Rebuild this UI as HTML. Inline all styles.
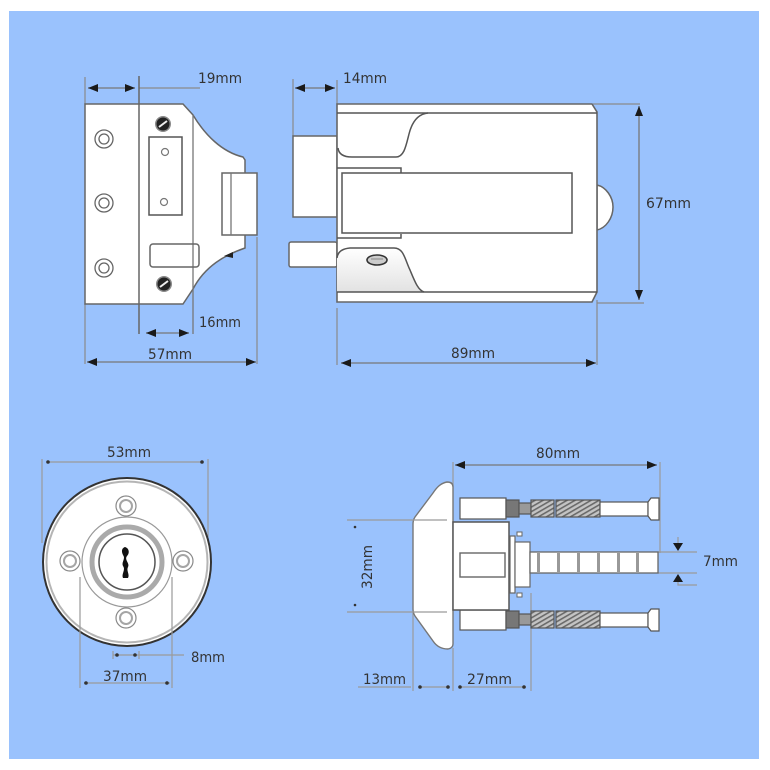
<!DOCTYPE html>
<html><head><meta charset="utf-8"><style>
html,body{margin:0;padding:0;background:#fff;}
svg{display:block;}
text{font-family:"DejaVu Sans","Liberation Sans",sans-serif;font-size:14px;fill:#333;}
</style></head><body>
<svg width="770" height="770" viewBox="0 0 770 770" xmlns="http://www.w3.org/2000/svg">
<defs>
<marker id="e" viewBox="0 0 10 8" refX="10" refY="4" markerWidth="10" markerHeight="8" markerUnits="userSpaceOnUse" orient="auto"><path d="M0,0 L10,4 L0,8 z" fill="#1a1a1a"/></marker>
<marker id="s" viewBox="0 0 10 8" refX="0" refY="4" markerWidth="10" markerHeight="8" markerUnits="userSpaceOnUse" orient="auto"><path d="M10,0 L0,4 L10,8 z" fill="#1a1a1a"/></marker>
<pattern id="thr" width="4" height="4" patternUnits="userSpaceOnUse" patternTransform="rotate(60)"><rect width="4" height="4" fill="#c4c4c4"/><rect width="1.6" height="4" fill="#6a6a6a"/></pattern>
<linearGradient id="sh" x1="0" y1="0" x2="0" y2="1"><stop offset="0" stop-color="#fff"/><stop offset="1" stop-color="#e2e2e2"/></linearGradient>
</defs>
<rect x="9" y="11" width="750" height="748" fill="#9ac2fd"/>

<!-- ===== TOP LEFT: front plate view ===== -->
<g fill="none" stroke="#8a8a8a" stroke-width="1.2">
<line x1="85" y1="77" x2="85" y2="104"/>
<line x1="85" y1="304" x2="85" y2="364"/>
<line x1="257" y1="237" x2="257" y2="364"/>
<line x1="139" y1="88" x2="200" y2="88"/>
</g>
<path d="M85,104 H183 L193,115 C205,135 222,152 243,157 L245,160 V248 C225,255 205,266 193,289 L183,304 H85 Z" fill="#fff" stroke="#666" stroke-width="1.5"/>
<line x1="139" y1="76" x2="139" y2="334" stroke="#666" stroke-width="1.5"/>
<line x1="193" y1="115" x2="193" y2="334" stroke="#777" stroke-width="1.3"/>
<rect x="222" y="173" width="35" height="62" fill="#fff" stroke="#666" stroke-width="1.5"/>
<line x1="231" y1="173" x2="231" y2="235" stroke="#777" stroke-width="1.3"/>
<path d="M224,256 L233,252 L233,258 Z" fill="#222"/>
<g fill="none" stroke="#666" stroke-width="1.3">
<circle cx="104" cy="139" r="9"/><circle cx="104" cy="139" r="5"/>
<circle cx="104" cy="203" r="9"/><circle cx="104" cy="203" r="5"/>
<circle cx="104" cy="268" r="9"/><circle cx="104" cy="268" r="5"/>
</g>
<rect x="149" y="137" width="33" height="78" fill="#fff" stroke="#555" stroke-width="1.5"/>
<circle cx="165" cy="152" r="3.5" fill="none" stroke="#777" stroke-width="1.2"/>
<circle cx="164" cy="202" r="3.5" fill="none" stroke="#777" stroke-width="1.2"/>
<rect x="150" y="244" width="49" height="23" rx="3" fill="none" stroke="#666" stroke-width="1.5"/>
<g>
<circle cx="163" cy="124" r="8" fill="#888"/><circle cx="163" cy="124" r="6.5" fill="#222"/>
<line x1="159" y1="127" x2="167" y2="121" stroke="#eee" stroke-width="2"/>
<circle cx="164" cy="284" r="8" fill="#888"/><circle cx="164" cy="284" r="6.5" fill="#222"/>
<line x1="160" y1="287" x2="168" y2="281" stroke="#eee" stroke-width="2"/>
</g>
<g stroke="#777" stroke-width="1.3">
<line x1="88" y1="88" x2="135" y2="88" marker-start="url(#s)" marker-end="url(#e)"/>
<line x1="146" y1="333" x2="189" y2="333" marker-start="url(#s)" marker-end="url(#e)"/>
<line x1="87" y1="362" x2="256" y2="362" marker-start="url(#s)" marker-end="url(#e)"/>
</g>
<text x="198" y="83" textLength="44" lengthAdjust="spacingAndGlyphs">19mm</text>
<text x="199" y="327" textLength="42" lengthAdjust="spacingAndGlyphs">16mm</text>
<text x="148" y="359" textLength="44" lengthAdjust="spacingAndGlyphs">57mm</text>

<!-- ===== TOP RIGHT: side view ===== -->
<g fill="none" stroke="#8a8a8a" stroke-width="1.2">
<line x1="293" y1="79" x2="293" y2="136"/>
<line x1="337" y1="80" x2="337" y2="104"/>
<line x1="593" y1="104" x2="640" y2="104"/>
<line x1="597" y1="303" x2="644" y2="303"/>
<line x1="337" y1="308" x2="337" y2="365"/>
<line x1="597" y1="300" x2="597" y2="365"/>
</g>
<rect x="293" y="136" width="44" height="81" fill="#fff" stroke="#666" stroke-width="1.5"/>
<rect x="289" y="242" width="48" height="25" rx="2" fill="#fff" stroke="#666" stroke-width="1.5"/>
<path d="M597,185 C606,187 613,197 613,207 C613,218 606,228 597,230 Z" fill="#fff" stroke="#666" stroke-width="1.5"/>
<path d="M337,104 H592 L597,112 V292 L592,302 H337 Z" fill="#fff" stroke="#666" stroke-width="1.6"/>
<path d="M337,258 Q338,249 350,248 H394 C404,248 405,260 410,270 C415,282 418,290 424,292 H337 Z" fill="url(#sh)" stroke="none"/>
<g fill="none" stroke="#555" stroke-width="1.5">
<line x1="337" y1="113" x2="597" y2="113"/>
<line x1="337" y1="292" x2="597" y2="292"/>
<path d="M338,148 Q339,157 352,157 H396 C404,157 406,146 409,134 C412,122 418,114 428,113"/>
<path d="M337,258 Q338,249 350,248 H394 C404,248 405,260 410,270 C415,282 418,290 424,292"/>
<path d="M337,168 H401 V173"/>
<path d="M337,238 H401 V234"/>
<rect x="342" y="173" width="230" height="60"/>
</g>
<ellipse cx="377" cy="260" rx="10" ry="5" fill="#ccc" stroke="#333" stroke-width="1.6"/>
<line x1="371" y1="259" x2="383" y2="259" stroke="#888" stroke-width="1"/>
<g stroke="#777" stroke-width="1.3">
<line x1="295" y1="88" x2="335" y2="88" marker-start="url(#s)" marker-end="url(#e)"/>
<line x1="639" y1="106" x2="639" y2="300" marker-start="url(#s)" marker-end="url(#e)"/>
<line x1="341" y1="363" x2="596" y2="363" marker-start="url(#s)" marker-end="url(#e)"/>
</g>
<text x="343" y="83" textLength="44" lengthAdjust="spacingAndGlyphs">14mm</text>
<text x="646" y="208" textLength="45" lengthAdjust="spacingAndGlyphs">67mm</text>
<text x="451" y="358" textLength="44" lengthAdjust="spacingAndGlyphs">89mm</text>

<!-- ===== BOTTOM LEFT: escutcheon front ===== -->
<g fill="none" stroke="#9a9a9a" stroke-width="1.2">
<line x1="42" y1="459" x2="42" y2="543"/>
<line x1="208" y1="459" x2="208" y2="537"/>
<line x1="47" y1="462" x2="203" y2="462"/>
</g>
<circle cx="48" cy="462" r="1.8" fill="#333"/><circle cx="202" cy="462" r="1.8" fill="#333"/>
<circle cx="127" cy="562" r="84" fill="#fff" stroke="#333" stroke-width="2"/>
<circle cx="127" cy="562" r="80.5" fill="none" stroke="#b5b5b5" stroke-width="2"/>
<circle cx="127" cy="562" r="45" fill="none" stroke="#999" stroke-width="1.2"/>
<circle cx="127" cy="562" r="35" fill="none" stroke="#aaa" stroke-width="5"/>
<circle cx="127" cy="562" r="28" fill="#fff" stroke="#555" stroke-width="1.5"/>
<path d="M125,547 C129,548 130,553 127,556 C124,560 130,563 128,567 C126,571 130,574 128,578 L123,578 C121,574 126,570 123,566 C121,562 126,559 123,555 C121,551 122,548 125,547 Z" fill="#111"/>
<g fill="#fff" stroke="#8a8a8a" stroke-width="1.2">
<circle cx="126" cy="506" r="10"/><circle cx="126" cy="618" r="10"/>
<circle cx="70" cy="561" r="10"/><circle cx="183" cy="561" r="10"/>
</g>
<g fill="none" stroke="#a5a5a5" stroke-width="2">
<circle cx="126" cy="506" r="6"/><circle cx="126" cy="618" r="6"/>
<circle cx="70" cy="561" r="6"/><circle cx="183" cy="561" r="6"/>
</g>
<g fill="none" stroke="#9a9a9a" stroke-width="1.2">
<line x1="80" y1="577" x2="80" y2="688"/>
<line x1="172" y1="577" x2="172" y2="688"/>
<line x1="84" y1="683" x2="170" y2="683"/>
<line x1="113" y1="655" x2="184" y2="655"/>
<line x1="113" y1="651" x2="113" y2="659"/>
<line x1="139" y1="651" x2="139" y2="659"/>
</g>
<circle cx="86" cy="683" r="1.8" fill="#333"/><circle cx="167" cy="683" r="1.8" fill="#333"/>
<circle cx="117" cy="655" r="1.8" fill="#333"/><circle cx="135" cy="655" r="1.8" fill="#333"/>
<text x="107" y="457" textLength="44" lengthAdjust="spacingAndGlyphs">53mm</text>
<text x="191" y="662" textLength="34" lengthAdjust="spacingAndGlyphs">8mm</text>
<text x="103" y="681" textLength="44" lengthAdjust="spacingAndGlyphs">37mm</text>

<!-- ===== BOTTOM RIGHT: escutcheon side ===== -->
<g fill="none" stroke="#9a9a9a" stroke-width="1.2">
<line x1="453" y1="462" x2="453" y2="487"/>
<line x1="660" y1="462" x2="660" y2="553"/>
<line x1="413" y1="612" x2="413" y2="691"/>
<line x1="453" y1="648" x2="453" y2="691"/>
<line x1="531" y1="593" x2="531" y2="691"/>
<line x1="358" y1="687" x2="411" y2="687"/>
<line x1="419" y1="687" x2="449" y2="687"/>
<line x1="459" y1="687" x2="526" y2="687"/>
<line x1="658" y1="552" x2="697" y2="552"/>
<line x1="658" y1="573" x2="697" y2="573"/>
<path d="M678,575 V585 H697"/>
<line x1="678" y1="537" x2="678" y2="545"/>
</g>
<circle cx="420" cy="687" r="1.8" fill="#333"/><circle cx="448" cy="687" r="1.8" fill="#333"/>
<circle cx="460" cy="687" r="1.8" fill="#333"/><circle cx="524" cy="687" r="1.8" fill="#333"/>
<circle cx="355" cy="527" r="1.3" fill="#333"/><circle cx="355" cy="605" r="1.3" fill="#333"/>
<path d="M673,543 L683,543 L678,551 Z" fill="#1a1a1a"/>
<path d="M673,582 L683,582 L678,574 Z" fill="#1a1a1a"/>
<!-- knob -->
<path d="M447,482 C441,483 437,487 433,493 L415,517 Q413,520 413,524 V609 Q413,613 415,616 L433,641 C437,647 442,649 448,649 Q453,648 453,644 V487 Q453,482 447,482 Z" fill="#fff" stroke="#777" stroke-width="1.4"/>
<line x1="347" y1="520" x2="447" y2="520" stroke="#9a9a9a" stroke-width="1.2"/>
<line x1="347" y1="612" x2="447" y2="612" stroke="#9a9a9a" stroke-width="1.2"/>
<!-- upper screw -->
<g stroke="#555" stroke-width="1.2">
<rect x="460" y="498" width="46" height="21" fill="#fff"/>
<rect x="506" y="500" width="13" height="17" fill="#777"/>
<rect x="519" y="503" width="12" height="11" fill="#999"/>
<rect x="531" y="500" width="23" height="17" fill="url(#thr)"/>
<rect x="556" y="500" width="44" height="17" fill="url(#thr)"/>
<rect x="600" y="502" width="48" height="14" fill="#fff"/>
<path d="M648,502 L651,498 H659 V520 H651 L648,516 Z" fill="#fff"/>
</g>
<!-- lower screw -->
<g stroke="#555" stroke-width="1.2">
<rect x="460" y="610" width="46" height="20" fill="#fff"/>
<rect x="506" y="611" width="13" height="17" fill="#777"/>
<rect x="519" y="614" width="12" height="11" fill="#999"/>
<rect x="531" y="611" width="23" height="17" fill="url(#thr)"/>
<rect x="556" y="611" width="44" height="17" fill="url(#thr)"/>
<rect x="600" y="613" width="48" height="14" fill="#fff"/>
<path d="M648,613 L651,609 H659 V631 H651 L648,627 Z" fill="#fff"/>
</g>
<!-- body -->
<rect x="453" y="522" width="56" height="88" fill="#fff" stroke="#555" stroke-width="1.5"/>
<rect x="460" y="553" width="45" height="24" fill="#fff" stroke="#666" stroke-width="1.4"/>
<rect x="517" y="532" width="5" height="4" fill="#fff" stroke="#666" stroke-width="1"/>
<rect x="517" y="593" width="5" height="4" fill="#fff" stroke="#666" stroke-width="1"/>
<rect x="510" y="536" width="5" height="57" fill="#fff" stroke="#666" stroke-width="1.2"/>
<rect x="515" y="542" width="15" height="45" fill="#fff" stroke="#666" stroke-width="1.2"/>
<rect x="530" y="552" width="128" height="21" fill="#fff" stroke="#666" stroke-width="1.3"/>
<g fill="#999">
<rect x="537" y="553" width="3" height="19"/><rect x="557" y="553" width="3" height="19"/>
<rect x="577" y="553" width="3" height="19"/><rect x="597" y="553" width="3" height="19"/>
<rect x="617" y="553" width="3" height="19"/><rect x="636" y="553" width="3" height="19"/>
</g>
<line x1="455" y1="465" x2="657" y2="465" stroke="#777" stroke-width="1.3" marker-start="url(#s)" marker-end="url(#e)"/>
<text x="536" y="458" textLength="44" lengthAdjust="spacingAndGlyphs">80mm</text>
<text x="703" y="566" textLength="35" lengthAdjust="spacingAndGlyphs">7mm</text>
<text x="363" y="684" textLength="43" lengthAdjust="spacingAndGlyphs">13mm</text>
<text x="467" y="684" textLength="45" lengthAdjust="spacingAndGlyphs">27mm</text>
<text transform="translate(372,589) rotate(-90)" x="0" y="0" textLength="44" lengthAdjust="spacingAndGlyphs">32mm</text>
</svg>
</body></html>
